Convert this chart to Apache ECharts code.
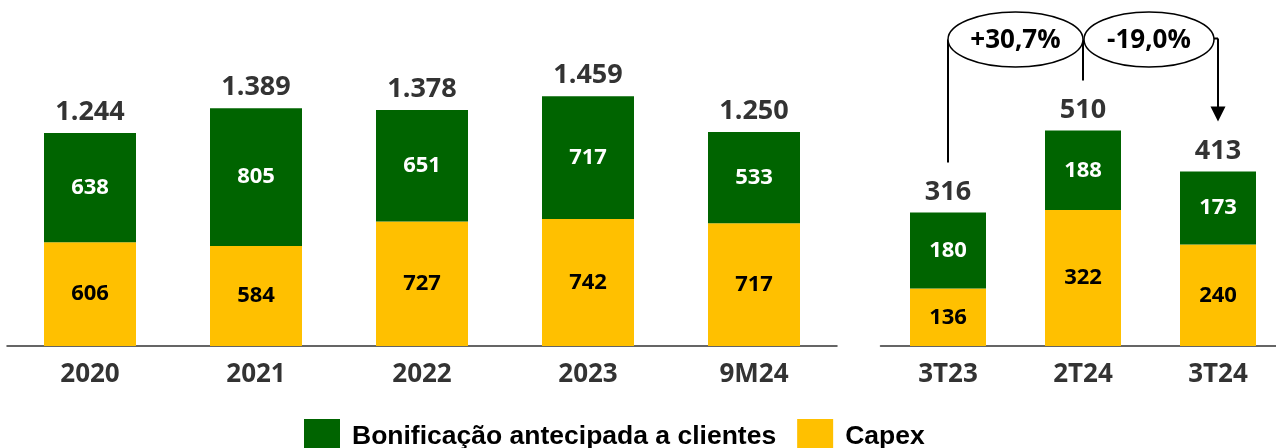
<!DOCTYPE html>
<html>
<head>
<meta charset="utf-8">
<script src="https://cdn.jsdelivr.net/npm/echarts@6/dist/echarts.min.js"></script>
<style>
  html, body { margin: 0; padding: 0; background: #fff; overflow: hidden; }
  #main { width: 1290px; height: 448px; }
</style>
</head>
<body>
<div id="main"></div>
<script>
// dados
var anos = ['2020', '2021', '2022', '2023', '9M24'];
var bonifAnos = [638, 805, 651, 717, 533];
var capexAnos = [606, 584, 727, 742, 717];
var totalAnos = [1244, 1389, 1378, 1459, 1250];

var trimestres = ['3T23', '2T24', '3T24'];
var bonifTri = [180, 188, 173];
var capexTri = [136, 322, 240];
var totalTri = [316, 510, 413];

var variacoes = ['+30,7%', '-19,0%'];

var VERDE = '#006400';
var AMARELO = '#FFC000';
var FONTE = '"Open Sans", "Noto Sans", sans-serif';

function fmt(v) {
    return String(v).replace(/\B(?=(\d{3})+(?!\d))/g, '.');
}

// o div é um pouco mais largo que a janela: o eixo da direita sai cortado na borda
var myChart = echarts.init(document.getElementById('main'));

function labelInside(cor) {
    return {
        show: true,
        position: 'inside',
        color: cor,
        fontFamily: FONTE,
        fontWeight: 'bold',
        fontSize: 22
    };
}

var labelTotal = {
    show: true,
    position: 'top',
    distance: 7,
    color: '#333',
    fontFamily: FONTE,
    fontWeight: 'bold',
    fontSize: 27,
    formatter: function (p) { return fmt(p.value); }
};

function eixoX(idx, dados) {
    return {
        type: 'category',
        gridIndex: idx,
        data: dados,
        axisTick: { show: false },
        axisLine: { lineStyle: { color: '#333', width: 1.5 } },
        axisLabel: {
            color: '#333',
            fontFamily: FONTE,
            fontWeight: 'bold',
            fontSize: 26,
            margin: 16
        }
    };
}

function eixoY(idx, max) {
    return {
        type: 'value',
        gridIndex: idx,
        min: 0,
        max: max,
        show: false,
        splitLine: { show: false }
    };
}

var option = {
    animation: false,
    grid: [
        { left: 7, width: 830, top: 3.6, height: 342.4 },
        { left: 880.5, width: 405, top: 8, height: 338 }
    ],
    xAxis: [eixoX(0, anos), eixoX(1, trimestres)],
    yAxis: [eixoY(0, 2000), eixoY(1, 800)],
    legend: {
        data: ['Bonificação antecipada a clientes', 'Capex'],
        left: 299,
        top: 414,
        itemWidth: 36,
        itemHeight: 36,
        itemGap: 21,
        icon: 'rect',
        textStyle: {
            color: '#000',
            fontFamily: '"Liberation Sans", Arial, sans-serif',
            fontWeight: 'bold',
            fontSize: 26.5,
            padding: [0, 0, 0, 7]
        }
    },
    series: [
        {
            name: 'Capex', type: 'bar', stack: 'a', barWidth: 92,
            xAxisIndex: 0, yAxisIndex: 0,
            itemStyle: { color: AMARELO },
            label: labelInside('#000'),
            data: capexAnos
        },
        {
            name: 'Bonificação antecipada a clientes', type: 'bar', stack: 'a', barWidth: 92,
            xAxisIndex: 0, yAxisIndex: 0,
            itemStyle: { color: VERDE },
            label: labelInside('#fff'),
            data: bonifAnos
        },
        {
            name: 'TotalAnos', type: 'bar', barWidth: 92, barGap: '-100%',
            xAxisIndex: 0, yAxisIndex: 0, z: 1,
            itemStyle: { color: 'rgba(0,0,0,0)' },
            label: labelTotal,
            silent: true,
            data: totalAnos
        },
        {
            name: 'Capex', type: 'bar', stack: 'b', barWidth: 76,
            xAxisIndex: 1, yAxisIndex: 1,
            itemStyle: { color: AMARELO },
            label: labelInside('#000'),
            data: capexTri
        },
        {
            name: 'Bonificação antecipada a clientes', type: 'bar', stack: 'b', barWidth: 76,
            xAxisIndex: 1, yAxisIndex: 1,
            itemStyle: { color: VERDE },
            label: labelInside('#fff'),
            data: bonifTri
        },
        {
            name: 'TotalTri', type: 'bar', barWidth: 76, barGap: '-100%',
            xAxisIndex: 1, yAxisIndex: 1, z: 1,
            itemStyle: { color: 'rgba(0,0,0,0)' },
            label: labelTotal,
            silent: true,
            data: totalTri
        }
    ]
};
myChart.setOption(option);

// anotações de variação (posições tiradas das escalas)
var xs = trimestres.map(function (c) {
    return myChart.convertToPixel({ xAxisIndex: 1 }, c);
});
var tops = totalTri.map(function (v) {
    return myChart.convertToPixel({ yAxisIndex: 1 }, v) - 50;
});
var cy = 39.5, ry = 27.5;
var traco = { stroke: '#000', lineWidth: 2 };
var fonteVar = {
    fill: '#000', font: 'bold 26px ' + FONTE,
    textAlign: 'center', textVerticalAlign: 'middle'
};

var graficos = [
    { type: 'line', shape: { x1: xs[0], y1: cy, x2: xs[0], y2: tops[0] }, style: traco },
    { type: 'line', shape: { x1: xs[1], y1: cy, x2: xs[1], y2: tops[1] }, style: traco },
    { type: 'line', shape: { x1: xs[2] - 4, y1: cy - 1, x2: xs[2], y2: cy - 1 }, style: traco },
    { type: 'line', shape: { x1: xs[2], y1: cy - 1, x2: xs[2], y2: tops[2] - 12 }, style: traco },
    { type: 'polygon', shape: { points: [[xs[2] - 7.5, tops[2] - 15], [xs[2] + 7.5, tops[2] - 15], [xs[2], tops[2]]] }, style: { fill: '#000' } },
    { type: 'ellipse', shape: { cx: (xs[0] + xs[1]) / 2, cy: cy, rx: (xs[1] - xs[0]) / 2, ry: ry },
      style: { fill: '#fff', stroke: '#000', lineWidth: 1.5 } },
    { type: 'ellipse', shape: { cx: (xs[1] + 1 + xs[2] - 4) / 2, cy: cy, rx: (xs[2] - 5 - xs[1]) / 2, ry: ry },
      style: { fill: '#fff', stroke: '#000', lineWidth: 1.5 } },
    { type: 'text', x: (xs[0] + xs[1]) / 2, y: cy + 1, style: Object.assign({ text: variacoes[0] }, fonteVar) },
    { type: 'text', x: (xs[1] + xs[2] - 3) / 2, y: cy + 1, style: Object.assign({ text: variacoes[1] }, fonteVar) }
];
graficos.forEach(function (g) { g.z = 100; });
myChart.setOption({ graphic: graficos });
</script>
</body>
</html>
